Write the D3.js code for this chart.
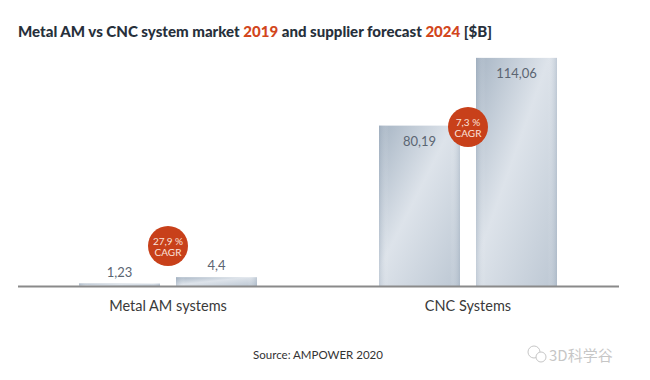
<!DOCTYPE html>
<html><head><meta charset="utf-8">
<script src="https://cdn.jsdelivr.net/npm/d3@7"></script>
<style>
html,body{margin:0;padding:0;background:#fff;}
svg{display:block;}
</style></head>
<body>
<svg id="chart" width="650" height="380"></svg>
<script>
const categories = ["Metal AM systems", "CNC Systems"];
const years = ["2019", "2024"];
const values2019 = [1.23, 80.19];
const values2024 = [4.4, 114.06];
const valueLabels2019 = ["1,23", "80,19"];
const valueLabels2024 = ["4,4", "114,06"];
const cagrLabels = ["27,9 %", "7,3 %"];

const svg = d3.select("#chart");
const font = "Lato, 'Open Sans', sans-serif";

// gradient
const defs = svg.append("defs");
const g1 = defs.append("linearGradient").attr("id","barGrad")
  .attr("x1","0").attr("y1","0").attr("x2","1").attr("y2","1");
g1.append("stop").attr("offset","0").attr("stop-color","#a7b5c4");
g1.append("stop").attr("offset","0.45").attr("stop-color","#dde3ea");
g1.append("stop").attr("offset","1").attr("stop-color","#bcc7d3");
const g2 = defs.append("linearGradient").attr("id","barEdge")
  .attr("x1","0").attr("y1","0").attr("x2","1").attr("y2","0");
g2.append("stop").attr("offset","0").attr("stop-color","#8fa0b3").attr("stop-opacity",0.35);
g2.append("stop").attr("offset","0.12").attr("stop-color","#ffffff").attr("stop-opacity",0);
g2.append("stop").attr("offset","0.88").attr("stop-color","#ffffff").attr("stop-opacity",0);
g2.append("stop").attr("offset","1").attr("stop-color","#8fa0b3").attr("stop-opacity",0.35);

// Title
const title = svg.append("text").attr("x",18).attr("y",37)
  .attr("font-family",font).attr("font-weight",900).attr("font-size",15)
  .attr("fill","#27303b");
title.append("tspan").text("Metal AM vs CNC system market ");
title.append("tspan").attr("fill","#d2461c").text(years[0]);
title.append("tspan").text(" and supplier forecast ");
title.append("tspan").attr("fill","#d2461c").text(years[1]);
title.append("tspan").text(" [$B]");
// fit title width to reference
const tl = title.node().getComputedTextLength();
title.attr("textLength", 474).attr("lengthAdjust","spacingAndGlyphs");
if (Math.abs(tl - 474) > 40) title.attr("textLength", null);

const x0 = d3.scaleBand().domain(categories).range([18, 618]).padding(0);
const x1 = d3.scaleBand().domain(years).range([61, 239]).paddingInner(0.165).paddingOuter(0);
const y = d3.scaleLinear().domain([0, 120]).range([286, 46]);

const data = [];
categories.forEach((c, i) => {
  data.push({cat: c, year: years[0], v: values2019[i], label: valueLabels2019[i]});
  data.push({cat: c, year: years[1], v: values2024[i], label: valueLabels2024[i]});
});

const bars = svg.append("g");
data.forEach(d => {
  const bx = x0(d.cat) + x1(d.year);
  const bw = x1.bandwidth();
  const top = y(d.v);
  const h = Math.max(y(0) - top, 2.5);
  bars.append("rect").attr("x", bx).attr("y", y(0) - h).attr("width", bw).attr("height", h)
    .attr("fill","url(#barGrad)");
  bars.append("rect").attr("x", bx).attr("y", y(0) - h).attr("width", bw).attr("height", h)
    .attr("fill","url(#barEdge)");
  const inside = (y(0) - top) > 40;
  bars.append("text").attr("x", bx + bw/2)
    .attr("y", inside ? top + 20 : top - 7)
    .attr("text-anchor","middle").attr("font-family",font).attr("font-weight",400)
    .attr("font-size",13).attr("fill","#5b6572").text(d.label);
});

// axis line
svg.append("line").attr("x1",18).attr("x2",619).attr("y1",y(0)+0.5).attr("y2",y(0)+0.5)
  .attr("stroke","#8a8a8a").attr("stroke-width",2);

// category labels
categories.forEach(c => {
  svg.append("text").attr("x", x0(c) + x0.bandwidth()/2).attr("y", 311)
    .attr("text-anchor","middle").attr("font-family",font).attr("font-size",14.5)
    .attr("fill","#3a3a3a").text(c);
});

// CAGR circles
categories.forEach((c, i) => {
  const cx = x0(c) + x0.bandwidth()/2;
  const cy = i === 0 ? 246 : 127;
  svg.append("circle").attr("cx",cx).attr("cy",cy).attr("r",20).attr("fill","#c8401a");
  svg.append("text").attr("x",cx).attr("y",cy-1.5).attr("text-anchor","middle")
    .attr("font-family",font).attr("font-size",10).attr("fill","#fbe3da").text(cagrLabels[i]);
  svg.append("text").attr("x",cx).attr("y",cy+10).attr("text-anchor","middle")
    .attr("font-family",font).attr("font-size",10).attr("fill","#fbe3da").text("CAGR");
});

// source
svg.append("text").attr("x",318).attr("y",359).attr("text-anchor","middle")
  .attr("font-family",font).attr("font-size",11.5).attr("fill","#333").text("Source: AMPOWER 2020");

// watermark
const wm = svg.append("g").attr("opacity",0.55);
wm.append("circle").attr("cx",534).attr("cy",352).attr("r",6).attr("fill","none").attr("stroke","#999").attr("stroke-width",1);
wm.append("circle").attr("cx",541).attr("cy",357).attr("r",5).attr("fill","#fff").attr("stroke","#999").attr("stroke-width",1);
wm.append("text").attr("x",549).attr("y",361).attr("font-family","'Noto Sans CJK SC', sans-serif")
  .attr("font-size",15).attr("fill","#999").text("3D科学谷");
</script>
</body></html>
